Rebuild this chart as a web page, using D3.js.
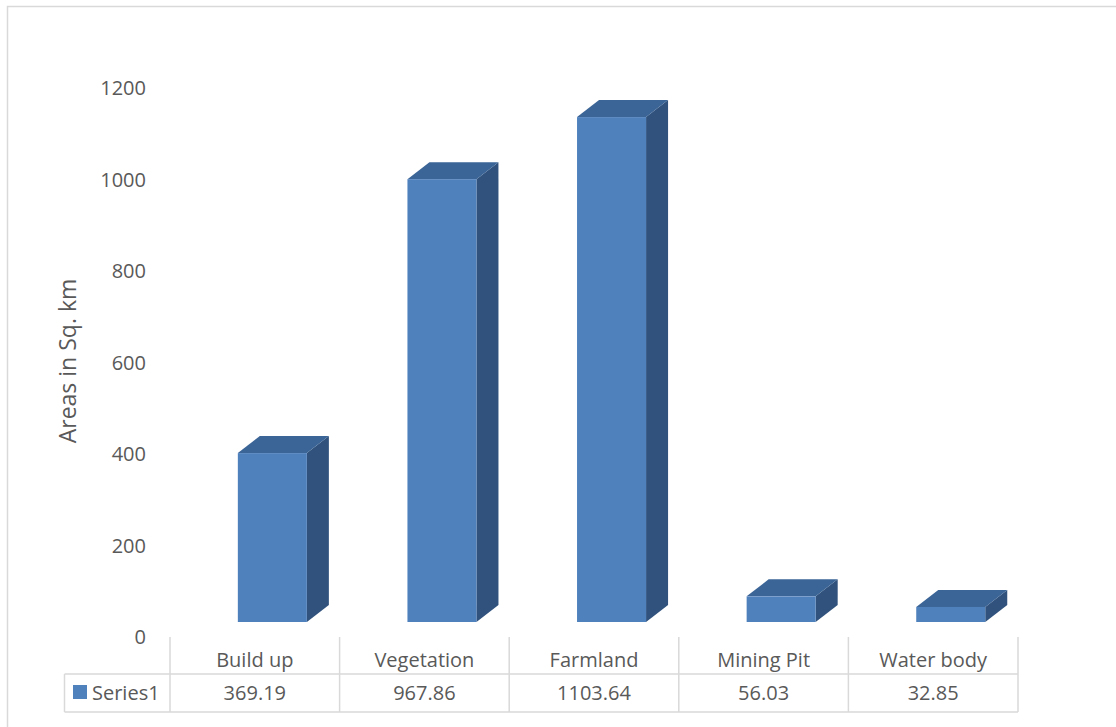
<!DOCTYPE html>
<html>
<head>
<meta charset="utf-8">
<script src="https://cdn.jsdelivr.net/npm/d3@7"></script>
<style>
  html, body { margin: 0; padding: 0; background: #fff; }
  svg { display: block; font-family: "Open Sans", "Noto Sans", sans-serif; }
</style>
</head>
<body>
<svg id="chart" width="1116" height="727"></svg>
<script>
// Land-cover areas (sq. km)
const categories = ["Build up", "Vegetation", "Farmland", "Mining Pit", "Water body"];
const seriesName = "Series1";
const values = [369.19, 967.86, 1103.64, 56.03, 32.85];
const valueLabels = ["369.19", "967.86", "1103.64", "56.03", "32.85"];
const yTicks = [0, 200, 400, 600, 800, 1000, 1200];
const yTitle = "Areas in Sq. km";

const svg = d3.select("#chart");
const textColor = "#595959";
const gridColor = "#d9d9d9";
const faceColor = "#4f81bd";
const topColor = "#3b6597";
const sideColor = "#30527d";

// chart frame (only top and left edges fall inside the view)
svg.append("rect")
  .attr("x", 7.5).attr("y", 6.5)
  .attr("width", 1300).attr("height", 900)
  .attr("fill", "none").attr("stroke", gridColor).attr("stroke-width", 1.5);

const x = d3.scaleBand().domain(categories).range([170, 1018]).paddingInner(0).paddingOuter(0);
const y = d3.scaleLinear().domain([0, 1200]).range([622, 622 - 1200 * 0.4575]);

// 3D depth offset of the columns
const depthX = 22, depthY = -17;
const labelShift = 15.5;

// value axis labels
const yAxis = d3.axisLeft(y).tickValues(yTicks).tickSize(0).tickPadding(0).tickFormat(d3.format("d"));
const yg = svg.append("g").attr("transform", "translate(146," + labelShift + ")").call(yAxis);
yg.select(".domain").remove();
yg.selectAll("text")
  .attr("fill", textColor)
  .style("font-size", "20px")
  .style("font-family", "\"Open Sans\", sans-serif");

// axis title
svg.append("text")
  .attr("transform", "translate(76,361) rotate(-90)")
  .attr("text-anchor", "middle")
  .attr("fill", textColor)
  .style("font-size", "23px")
  .text(yTitle);

// columns
const bw = x.bandwidth();
const cols = svg.append("g").selectAll("g")
  .data(categories.map((c, i) => ({ c, v: values[i] })))
  .join("g");

cols.each(function(d) {
  const g = d3.select(this);
  const x0 = x(d.c) + bw * 0.4;
  const x1 = x0 + bw * 0.407;
  const yb = y(0), yt = y(d.v);
  // side face
  g.append("path")
    .attr("d", `M${x1},${yt} L${x1 + depthX},${yt + depthY} L${x1 + depthX},${yb + depthY} L${x1},${yb} Z`)
    .attr("fill", sideColor);
  // top face
  g.append("path")
    .attr("d", `M${x0},${yt} L${x0 + depthX},${yt + depthY} L${x1 + depthX},${yt + depthY} L${x1},${yt} Z`)
    .attr("fill", topColor);
  // front face
  g.append("rect")
    .attr("x", x0).attr("y", yt)
    .attr("width", x1 - x0).attr("height", yb - yt)
    .attr("fill", faceColor);
});

// data table
const tHeadTop = 637, tRow = 674, tBottom = 712, tLeft = 64.5;
const table = svg.append("g").attr("stroke", gridColor).attr("stroke-width", 1.5).attr("fill", "none");
const bounds = categories.map(c => x(c)).concat([x.range()[1]]);
bounds.forEach(b => {
  table.append("line").attr("x1", b).attr("x2", b).attr("y1", tHeadTop).attr("y2", tBottom);
});
table.append("line").attr("x1", tLeft).attr("x2", tLeft).attr("y1", tRow).attr("y2", tBottom);
table.append("line").attr("x1", tLeft).attr("x2", x.range()[1]).attr("y1", tRow).attr("y2", tRow);
table.append("line").attr("x1", tLeft).attr("x2", x.range()[1]).attr("y1", tBottom).attr("y2", tBottom);

svg.append("g").selectAll("text")
  .data(categories)
  .join("text")
  .attr("x", d => x(d) + bw / 2)
  .attr("y", 667)
  .attr("text-anchor", "middle")
  .attr("fill", textColor)
  .style("font-size", "20px")
  .text(d => d);

svg.append("g").selectAll("text")
  .data(valueLabels)
  .join("text")
  .attr("x", (d, i) => x(categories[i]) + bw / 2)
  .attr("y", 700)
  .attr("text-anchor", "middle")
  .attr("fill", textColor)
  .style("font-size", "20px")
  .text(d => d);

// legend key in the table row
svg.append("rect")
  .attr("x", 73).attr("y", 685).attr("width", 14).attr("height", 14)
  .attr("fill", faceColor);
svg.append("text")
  .attr("x", 92).attr("y", 700)
  .attr("fill", textColor)
  .style("font-size", "20px")
  .text(seriesName);
</script>
</body>
</html>
